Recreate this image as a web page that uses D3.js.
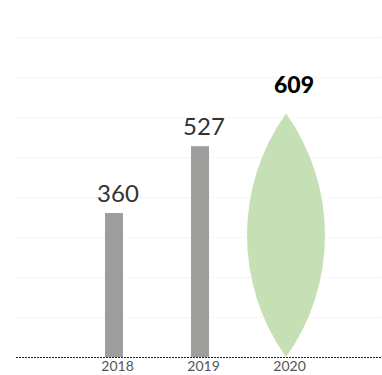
<!DOCTYPE html>
<html>
<head>
<meta charset="utf-8">
<script src="https://cdn.jsdelivr.net/npm/d3@7/dist/d3.min.js"></script>
<style>
  html, body { margin: 0; padding: 0; background: #fff; }
  svg { display: block; }
</style>
</head>
<body>
<svg id="chart" width="382" height="375"></svg>
<script>
// Yearly totals; the last year is drawn as a highlighted lens
const years = ["2018", "2019", "2020"];
const values = [360, 527, 609];
const gridTicks = [100, 200, 300, 400, 500, 600, 700, 800];

const svg = d3.select("#chart");
const W = 382;
const left = 16;
const baseY = 357;

const y = d3.scaleLinear().domain([0, 800]).range([baseY, 37]);
const x = d3.scalePoint().domain(years).range([114, 286]);

const barW = 18;
const lensW = 78;
const fontFam = "Lato, 'Noto Sans', sans-serif";

// faint dotted gridlines
svg.append("g")
  .selectAll("line")
  .data(gridTicks)
  .join("line")
  .attr("x1", left).attr("x2", W)
  .attr("y1", d => y(d) + 0.5).attr("y2", d => y(d) + 0.5)
  .attr("stroke", "#efefef")
  .attr("stroke-width", 1)
  .attr("stroke-dasharray", "2,2");

const data = years.map((yr, i) => ({ year: yr, value: values[i], last: i === years.length - 1 }));

// grey bars
svg.append("g")
  .selectAll("rect")
  .data(data.filter(d => !d.last))
  .join("rect")
  .attr("x", d => x(d.year) - barW / 2)
  .attr("y", d => y(d.value))
  .attr("width", barW)
  .attr("height", d => baseY - y(d.value))
  .attr("fill", "#9d9d9b");

// lens shape built from two circular arcs
function lensPath(cx, top, bottom, w) {
  const L = bottom - top;
  const s = w / 2;
  const R = (L * L / 4 + s * s) / (2 * s);
  return `M${cx},${top} A${R},${R} 0 0 1 ${cx},${bottom} A${R},${R} 0 0 1 ${cx},${top} Z`;
}

svg.append("g")
  .selectAll("path")
  .data(data.filter(d => d.last))
  .join("path")
  .attr("d", d => lensPath(x(d.year), y(d.value), baseY, lensW))
  .attr("fill", "#c6e0b5");

// baseline
svg.append("line")
  .attr("x1", left).attr("x2", W)
  .attr("y1", baseY + 0.5).attr("y2", baseY + 0.5)
  .attr("stroke", "#222")
  .attr("stroke-width", 1)
  .attr("stroke-dasharray", "2,1");

// value labels
svg.append("g")
  .selectAll("text")
  .data(data)
  .join("text")
  .attr("x", d => x(d.year) + (d.last ? 8 : 4))
  .attr("y", d => y(d.value) - (d.last ? 20 : 11))
  .attr("text-anchor", "middle")
  .attr("font-family", fontFam)
  .attr("font-size", d => d.last ? 23 : 24)
  .attr("font-weight", d => d.last ? 900 : 400)
  .attr("fill", d => d.last ? "#000" : "#333")
  .text(d => d.value);

// category axis labels
const xAxis = d3.axisBottom(x).tickSize(0).tickPadding(0);
const gx = svg.append("g")
  .attr("transform", `translate(3,${baseY})`)
  .call(xAxis);
gx.select(".domain").remove();
gx.selectAll("text")
  .attr("dy", null)
  .attr("y", 14)
  .attr("font-family", fontFam)
  .attr("font-size", 14)
  .attr("font-weight", 400)
  .attr("fill", "#555");
</script>
</body>
</html>
